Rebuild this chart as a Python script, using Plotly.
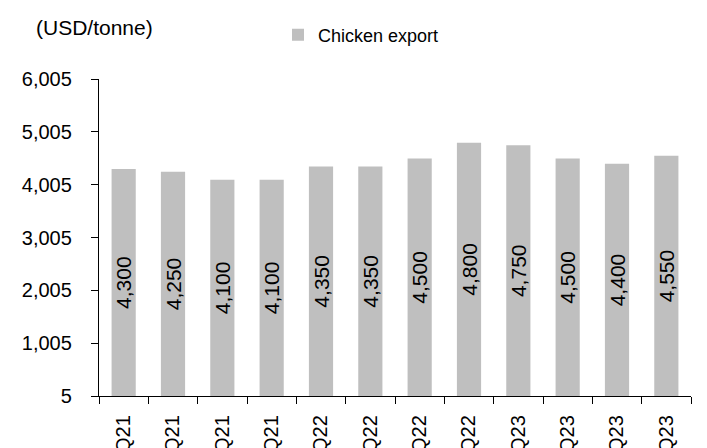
import plotly.graph_objects as go

categories = ["1Q21", "2Q21", "3Q21", "4Q21", "1Q22", "2Q22", "3Q22", "4Q22",
              "1Q23", "2Q23", "3Q23", "4Q23"]
chicken_export = [4300, 4250, 4100, 4100, 4350, 4350, 4500, 4800, 4750, 4500, 4400, 4550]
value_labels = [f"{v:,}" for v in chicken_export]

FONT = "Arial, 'Liberation Sans', sans-serif"

fig = go.Figure()
fig.add_trace(go.Bar(
    x=categories,
    y=chicken_export,
    name="Chicken export",
    marker=dict(color="#BFBFBF", line=dict(width=0)),
    width=0.49,
    text=value_labels,
    textposition="inside",
    insidetextanchor="middle",
    textangle=-90,
    constraintext="none",
    textfont=dict(family=FONT, size=21, color="black"),
    hoverinfo="skip",
))

fig.update_layout(
    width=707, height=448,
    margin=dict(l=99, r=16, t=79, b=52, autoexpand=False),
    plot_bgcolor="white", paper_bgcolor="white",
    font=dict(family=FONT, color="black"),
    showlegend=True,
    legend=dict(
        orientation="h",
        xref="container", yref="container",
        x=278 / 707, y=1 - 35 / 448,
        xanchor="left", yanchor="middle",
        font=dict(family=FONT, size=18, color="black"),
        bgcolor="rgba(0,0,0,0)",
    ),
    bargap=0.5,
    xaxis=dict(
        type="category",
        showline=True, linecolor="black", linewidth=1.3,
        ticks="outside", tickson="boundaries", ticklen=7, tickcolor="black", tickwidth=1.3,
        tickangle=-90,
        tickfont=dict(family=FONT, size=20, color="black"),
        ticklabelstandoff=10,
        showgrid=False, automargin=False,
    ),
    yaxis=dict(
        range=[5, 6005],
        tick0=5, dtick=1000, tickformat=",d",
        showline=True, linecolor="black", linewidth=1.3,
        ticks="outside", ticklen=7, tickcolor="black", tickwidth=1.3,
        tickfont=dict(family=FONT, size=20, color="black"),
        showgrid=False, zeroline=False, automargin=False,
        ticklabelstandoff=15,
    ),
    annotations=[dict(
        text="(USD/tonne)",
        xref="paper", yref="paper",
        x=(34 - 99) / 592, y=(396 - 28) / 317,
        xanchor="left", yanchor="middle",
        showarrow=False,
        font=dict(family=FONT, size=21, color="black"),
    )],
)

fig.write_html("out.html")
